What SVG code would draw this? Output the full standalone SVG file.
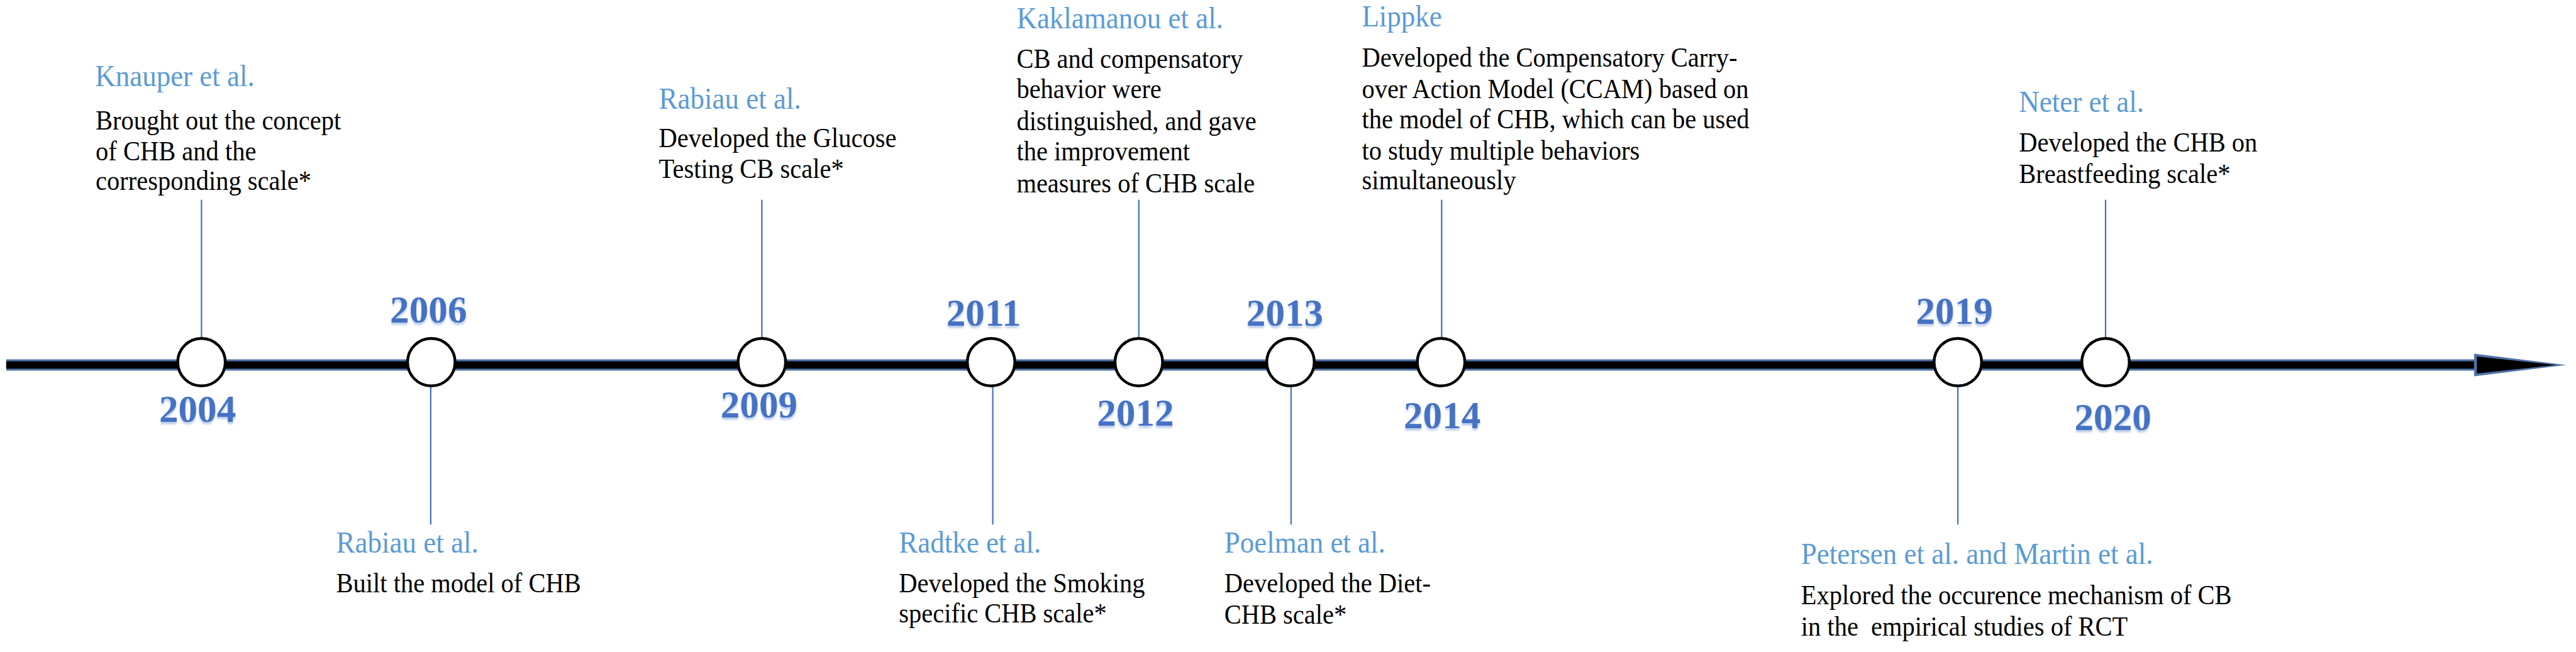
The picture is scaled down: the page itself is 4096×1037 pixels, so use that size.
<svg xmlns="http://www.w3.org/2000/svg" width="4096" height="1037" viewBox="0 0 4096 1037">
<defs>
<style>
.name{font-family:"Liberation Serif","Times New Roman",serif;font-size:50px;fill:#5B9BD5}
.body{font-family:"Liberation Serif","Times New Roman",serif;font-size:45px;fill:#000}
.year{font-family:"Liberation Serif","Times New Roman",serif;font-size:68px;font-weight:bold;fill:#4472C4;text-anchor:middle}
.dot{fill:#fff;stroke:#000;stroke-width:5}
.conn{stroke:#4472C4;stroke-width:2.5;fill:none}
</style>
<filter id="ysh" x="-20%" y="-20%" width="140%" height="160%">
<feDropShadow dx="0" dy="4" stdDeviation="2" flood-color="#9DB5DE" flood-opacity="0.7"/>
</filter>
</defs>
<rect width="4096" height="1037" fill="#fff"/>
<g transform="scale(0.9)">
<g id="timeline">
<rect x="11" y="635" width="4370" height="20" fill="#4F74A8"/>
<rect x="11" y="638.5" width="4370" height="13" fill="#000"/>
<polygon points="4371,625 4534,645 4371,665" fill="#4F74A8"/>
<polygon points="4376,630 4516,645 4376,660" fill="#000"/>
</g>
<g id="connectors">
<line class="conn" x1="356" y1="353" x2="356" y2="597"/>
<line class="conn" x1="761" y1="683" x2="761" y2="927"/>
<line class="conn" x1="1346" y1="353" x2="1346" y2="597"/>
<line class="conn" x1="1754" y1="683" x2="1754" y2="927"/>
<line class="conn" x1="2012" y1="353" x2="2012" y2="597"/>
<line class="conn" x1="2281" y1="683" x2="2281" y2="927"/>
<line class="conn" x1="2547" y1="353" x2="2547" y2="597"/>
<line class="conn" x1="3459" y1="683" x2="3459" y2="927"/>
<line class="conn" x1="3720" y1="353" x2="3720" y2="597"/>
</g>
<g id="node-2004">
<circle class="dot" cx="356" cy="640" r="42"/>
<text class="year" x="349" y="745" filter="url(#ysh)">2004</text>
<text class="name" x="168" y="152" transform="matrix(1 0 0 1.1 0 -15.2)">Knauper et al.</text>
<text class="body" x="169" y="229" transform="matrix(1 0 0 1.1 0 -22.9)">Brought out the concept</text>
<text class="body" x="169" y="283" transform="matrix(1 0 0 1.1 0 -28.3)">of CHB and the</text>
<text class="body" x="169" y="336" transform="matrix(1 0 0 1.1 0 -33.6)">corresponding scale*</text>
</g>
<g id="node-2006">
<circle class="dot" cx="762" cy="640" r="42"/>
<text class="year" x="757" y="570" filter="url(#ysh)">2006</text>
<text class="name" x="594" y="977" transform="matrix(1 0 0 1.1 0 -97.7)">Rabiau et al.</text>
<text class="body" x="594" y="1047" transform="matrix(1 0 0 1.1 0 -104.7)">Built the model of CHB</text>
</g>
<g id="node-2009">
<circle class="dot" cx="1346" cy="640" r="42"/>
<text class="year" x="1341" y="738" filter="url(#ysh)">2009</text>
<text class="name" x="1164" y="192" transform="matrix(1 0 0 1.1 0 -19.2)">Rabiau et al.</text>
<text class="body" x="1164" y="260" transform="matrix(1 0 0 1.1 0 -26)">Developed the Glucose</text>
<text class="body" x="1164" y="315" transform="matrix(1 0 0 1.1 0 -31.5)">Testing CB scale*</text>
</g>
<g id="node-2011">
<circle class="dot" cx="1751" cy="640" r="42"/>
<text class="year" x="1738" y="575" filter="url(#ysh)">2011</text>
<text class="name" x="1588" y="977" transform="matrix(1 0 0 1.1 0 -97.7)">Radtke et al.</text>
<text class="body" x="1588" y="1047" transform="matrix(1 0 0 1.1 0 -104.7)">Developed the Smoking</text>
<text class="body" x="1588" y="1100" transform="matrix(1 0 0 1.1 0 -110)">specific CHB scale*</text>
</g>
<g id="node-2012">
<circle class="dot" cx="2012" cy="640" r="42"/>
<text class="year" x="2006" y="752" filter="url(#ysh)">2012</text>
<text class="name" x="1796" y="50" transform="matrix(1 0 0 1.1 0 -5)">Kaklamanou et al.</text>
<text class="body" x="1796" y="120" transform="matrix(1 0 0 1.1 0 -12)">CB and compensatory</text>
<text class="body" x="1796" y="173" transform="matrix(1 0 0 1.1 0 -17.3)">behavior were</text>
<text class="body" x="1796" y="230" transform="matrix(1 0 0 1.1 0 -23)">distinguished, and gave</text>
<text class="body" x="1796" y="283" transform="matrix(1 0 0 1.1 0 -28.3)">the improvement</text>
<text class="body" x="1796" y="340" transform="matrix(1 0 0 1.1 0 -34)">measures of CHB scale</text>
</g>
<g id="node-2013">
<circle class="dot" cx="2280" cy="640" r="42"/>
<text class="year" x="2270" y="575" filter="url(#ysh)">2013</text>
<text class="name" x="2163" y="977" transform="matrix(1 0 0 1.1 0 -97.7)">Poelman et al.</text>
<text class="body" x="2163" y="1047" transform="matrix(1 0 0 1.1 0 -104.7)">Developed the Diet-</text>
<text class="body" x="2163" y="1102" transform="matrix(1 0 0 1.1 0 -110.2)">CHB scale*</text>
</g>
<g id="node-2014">
<circle class="dot" cx="2546" cy="640" r="42"/>
<text class="year" x="2548" y="757" filter="url(#ysh)">2014</text>
<text class="name" x="2406" y="47" transform="matrix(1 0 0 1.1 0 -4.7)">Lippke</text>
<text class="body" x="2406" y="118" transform="matrix(1 0 0 1.1 0 -11.8)">Developed the Compensatory Carry-</text>
<text class="body" x="2406" y="173" transform="matrix(1 0 0 1.1 0 -17.3)">over Action Model (CCAM) based on</text>
<text class="body" x="2406" y="227" transform="matrix(1 0 0 1.1 0 -22.7)">the model of CHB, which can be used</text>
<text class="body" x="2406" y="282" transform="matrix(1 0 0 1.1 0 -28.2)">to study multiple behaviors</text>
<text class="body" x="2406" y="335" transform="matrix(1 0 0 1.1 0 -33.5)">simultaneously</text>
</g>
<g id="node-2019">
<circle class="dot" cx="3459" cy="640" r="42"/>
<text class="year" x="3453" y="572" filter="url(#ysh)">2019</text>
<text class="name" x="3182" y="997" transform="matrix(1 0 0 1.1 0 -99.7)">Petersen et al. and Martin et al.</text>
<text class="body" x="3182" y="1068" transform="matrix(1 0 0 1.1 0 -106.8)">Explored the occurence mechanism of CB</text>
<text class="body" x="3182" y="1123" transform="matrix(1 0 0 1.1 0 -112.3)" style="white-space:pre">in the  empirical studies of RCT</text>
</g>
<g id="node-2020">
<circle class="dot" cx="3720" cy="640" r="42"/>
<text class="year" x="3733" y="760" filter="url(#ysh)">2020</text>
<text class="name" x="3567" y="198" transform="matrix(1 0 0 1.1 0 -19.8)">Neter et al.</text>
<text class="body" x="3567" y="268" transform="matrix(1 0 0 1.1 0 -26.8)">Developed the CHB on</text>
<text class="body" x="3567" y="323" transform="matrix(1 0 0 1.1 0 -32.3)">Breastfeeding scale*</text>
</g>
</g>
</svg>
